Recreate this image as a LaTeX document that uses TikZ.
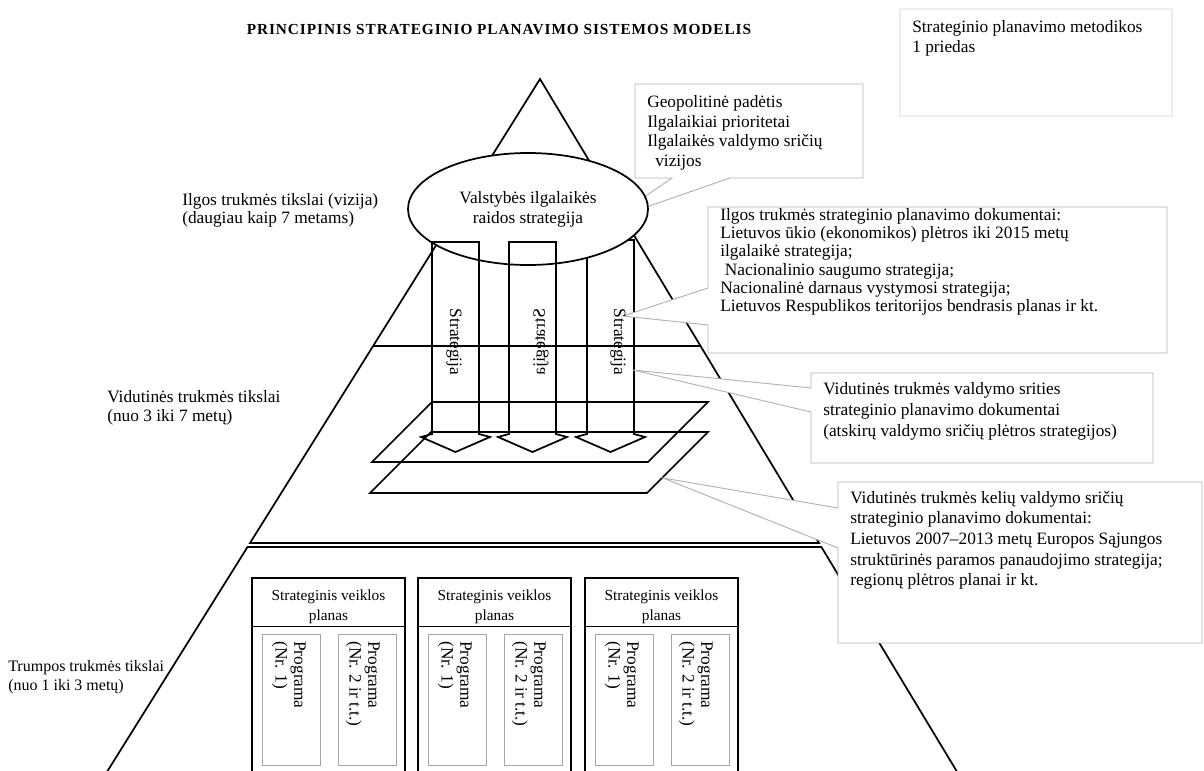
\documentclass[tikz,border=0pt]{standalone}
\usepackage{fontspec}
\setmainfont{Liberation Serif}
\newfontfamily\titlefont{Liberation Serif}[LetterSpace=6]
\usetikzlibrary{shapes.geometric,calc}

\tikzset{
  pyr/.style={line width=1.3pt},
  bubble/.style={draw=gray!60, line width=0.7pt, fill=white},
  txt/.style={align=left, inner sep=0pt, anchor=north west, font=\fontsize{13}{14.6}\selectfont},
  vtxt/.style={inner sep=0pt, rotate=-90, font=\fontsize{13}{14}\selectfont},
  planbox/.style={line width=1.4pt},
  progbox/.style={draw=gray!70, line width=0.7pt},
}

\begin{document}
\begin{tikzpicture}[x=0.75pt,y=0.75pt,yscale=-1,xscale=1]
\useasboundingbox (0,0) rectangle (1204,771);
\clip (0,0) rectangle (1204,771);

% pavadinimas ir priedo langelis
\node (ttl) at (499,30) {\titlefont\bfseries\fontsize{11.5}{13}\selectfont PRINCIPINIS STRATEGINIO PLANAVIMO SISTEMOS MODELIS};
\draw [draw=gray!15, line width=0.8pt] (900,9) rectangle (1172,116);
\node [txt, font=\fontsize{13}{15}\selectfont] (priedas) at (912,20) {Strateginio planavimo metodikos\\1 priedas};

% piramide
\coordinate (apex) at (540,79);
\coordinate (baseL) at (250,543);
\coordinate (baseR) at (819,543);
\draw [pyr] (apex) -- (baseL) -- (baseR) -- cycle;
\draw [pyr] ($(apex)!0.5754!(baseL)$) -- ($(apex)!0.5754!(baseR)$);
\draw [pyr] (105,775) -- (247.5,547) -- (821.4,547) -- (959,775);

% plokstumos
\draw [pyr] (432,402) -- (708,402) -- (648,462) -- (372,462) -- cycle;
\draw [pyr] (431,432) -- (708,432) -- (647,493) -- (370,493) -- cycle;

% trecia rodykle (uz elipses)
\draw [pyr] (587,240) -- (587,434) -- (576,437) -- (610.5,452) -- (645,437) -- (634,434) -- (634,240) -- cycle;

% paaiskinimu langeliai
\coordinate (tipA) at (612,219);
\coordinate (tipB) at (623,316);
\coordinate (tipC) at (633,370);
\coordinate (tipD) at (663,478);
\draw [bubble] (635,84) -- (863,84) -- (863,178) -- (730,178) -- (tipA) -- (672,178) -- (635,178) -- cycle;
\draw [bubble] (708,207) -- (1167,207) -- (1167,353) -- (708,353) -- (708,325) -- (tipB) -- (708,288) -- cycle;
\draw [bubble] (811,373) -- (1153,373) -- (1153,463) -- (811,463) -- (811,412) -- (tipC) -- (811,388) -- cycle;
\draw [bubble] (838,482) -- (1202,482) -- (1202,643) -- (838,643) -- (838,548) -- (tipD) -- (838,508) -- cycle;

\node [txt, font=\fontsize{13}{14.8}\selectfont] (geo) at (647,95) {Geopolitinė padėtis\\Ilgalaikiai prioritetai\\Ilgalaikės valdymo sričių\\\hspace*{6pt}vizijos};
\node [txt, font=\fontsize{13}{13.7}\selectfont] (ilgos) at (720,208) {Ilgos trukmės strateginio planavimo dokumentai:\\Lietuvos ūkio (ekonomikos) plėtros iki 2015 metų\\ilgalaikė strategija;\\\hspace*{3.5pt}Nacionalinio saugumo strategija;\\Nacionalinė darnaus vystymosi strategija;\\Lietuvos Respublikos teritorijos bendrasis planas ir kt.};
\node [txt, font=\fontsize{13}{16}\selectfont] (srities) at (823,382) {Vidutinės trukmės valdymo srities\\strateginio planavimo dokumentai\\(atskirų valdymo sričių plėtros strategijos)};
\node [txt, font=\fontsize{13}{15.5}\selectfont] (keliu) at (850,491) {Vidutinės trukmės kelių valdymo sričių\\strateginio planavimo dokumentai:\\Lietuvos 2007–2013 metų Europos Sąjungos\\struktūrinės paramos panaudojimo strategija;\\regionų plėtros planai ir kt.};

% elipse
\node [ellipse, draw, pyr, fill=white, minimum width=180pt, minimum height=84pt, inner sep=0pt, align=center, font=\fontsize{13}{15}\selectfont] (vizija) at (528,209) {Valstybės ilgalaikės\\raidos strategija};

% rodykles
\draw [pyr] (432,242) -- (432,434) -- (421,437) -- (455.5,452) -- (490,437) -- (479,434) -- (479,242) -- cycle;
\draw [pyr] (509,242) -- (509,434) -- (498,437) -- (532.5,452) -- (567,437) -- (556,434) -- (556,242) -- cycle;

\node [vtxt] (str1) at (454,342) {Strategija};
\node [vtxt, yscale=-1] (str2) at (541,342) {Strategija};
\node [vtxt] (str3) at (618,342) {Strategija};

% lygiai kaireje
\node [txt, font=\fontsize{13}{13.8}\selectfont] (ilgl) at (182,193) {Ilgos trukmės tikslai (vizija)\\(daugiau kaip 7 metams)};
\node [txt, font=\fontsize{13}{14.2}\selectfont] (vidl) at (107,390) {Vidutinės trukmės tikslai\\(nuo 3 iki 7 metų)};
\node [txt, font=\fontsize{12}{14.2}\selectfont] (trml) at (8,660) {Trumpos trukmės tikslai\\(nuo 1 iki 3 metų)};

% veiklos planai
\foreach \L in {252,418,585}{
  \draw [planbox] (\L,780) -- (\L,578) -- (\L+153,578) -- (\L+153,780);
  \draw [line width=0.7pt] (\L,626) -- (\L+153,626);
  \node [align=center, inner sep=0pt, font=\fontsize{11.5}{15}\selectfont] (plan\L) at (\L+76.5,607) {Strateginis veiklos\\planas};
  \draw [progbox] (\L+10,634) rectangle (\L+68,765);
  \draw [progbox] (\L+86,634) rectangle (\L+144,765);
  \node [vtxt, anchor=north west, align=left] (pa\L) at (\L+54,641) {Programa\\(Nr. 1)};
  \node [vtxt, anchor=north west, align=left] (pb\L) at (\L+128,641) {Programa\\(Nr. 2 ir t.t.)};
}
\end{tikzpicture}
\end{document}
